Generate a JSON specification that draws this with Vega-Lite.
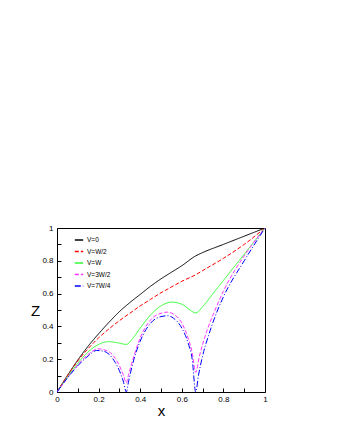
{
  "$schema": "https://vega.github.io/schema/vega-lite/v6.json",
  "width": 208,
  "height": 164,
  "autosize": {"type": "none"},
  "padding": {"left": 57, "top": 228, "right": 75, "bottom": 48},
  "background": "white",
  "config": {
    "view": {"stroke": "black", "strokeWidth": 1},
    "font": "Liberation Sans",
    "axis": {"domain": false, "grid": false, "tickColor": "black", "labelColor": "black", "labelFontSize": 8, "titleFontWeight": "normal", "titleColor": "black", "titleFontSize": 15}
  },
  "data": {"values": [
    {"s": "V=0", "x": 0, "z": 0}, {"s": "V=0", "x": 0.05, "z": 0.1}, {"s": "V=0", "x": 0.1, "z": 0.195}, {"s": "V=0", "x": 0.15, "z": 0.28}, {"s": "V=0", "x": 0.2, "z": 0.355}, {"s": "V=0", "x": 0.25, "z": 0.425}, {"s": "V=0", "x": 0.3, "z": 0.49}, {"s": "V=0", "x": 0.35, "z": 0.545}, {"s": "V=0", "x": 0.4, "z": 0.595}, {"s": "V=0", "x": 0.45, "z": 0.645}, {"s": "V=0", "x": 0.5, "z": 0.69}, {"s": "V=0", "x": 0.55, "z": 0.73}, {"s": "V=0", "x": 0.6, "z": 0.77}, {"s": "V=0", "x": 0.667, "z": 0.83}, {"s": "V=0", "x": 0.7, "z": 0.85}, {"s": "V=0", "x": 0.8, "z": 0.9}, {"s": "V=0", "x": 0.9, "z": 0.95}, {"s": "V=0", "x": 1, "z": 1},
    {"s": "V=W/2", "x": 0, "z": 0}, {"s": "V=W/2", "x": 0.05, "z": 0.1}, {"s": "V=W/2", "x": 0.1, "z": 0.19}, {"s": "V=W/2", "x": 0.15, "z": 0.265}, {"s": "V=W/2", "x": 0.2, "z": 0.33}, {"s": "V=W/2", "x": 0.25, "z": 0.385}, {"s": "V=W/2", "x": 0.3, "z": 0.435}, {"s": "V=W/2", "x": 0.35, "z": 0.48}, {"s": "V=W/2", "x": 0.4, "z": 0.525}, {"s": "V=W/2", "x": 0.45, "z": 0.565}, {"s": "V=W/2", "x": 0.5, "z": 0.605}, {"s": "V=W/2", "x": 0.55, "z": 0.64}, {"s": "V=W/2", "x": 0.6, "z": 0.675}, {"s": "V=W/2", "x": 0.667, "z": 0.715}, {"s": "V=W/2", "x": 0.7, "z": 0.74}, {"s": "V=W/2", "x": 0.8, "z": 0.815}, {"s": "V=W/2", "x": 0.9, "z": 0.9}, {"s": "V=W/2", "x": 1, "z": 1},
    {"s": "V=W", "x": 0, "z": 0}, {"s": "V=W", "x": 0.05, "z": 0.09}, {"s": "V=W", "x": 0.1, "z": 0.175}, {"s": "V=W", "x": 0.15, "z": 0.245}, {"s": "V=W", "x": 0.2, "z": 0.29}, {"s": "V=W", "x": 0.25, "z": 0.307}, {"s": "V=W", "x": 0.3, "z": 0.298}, {"s": "V=W", "x": 0.333, "z": 0.29}, {"s": "V=W", "x": 0.36, "z": 0.32}, {"s": "V=W", "x": 0.4, "z": 0.39}, {"s": "V=W", "x": 0.45, "z": 0.47}, {"s": "V=W", "x": 0.5, "z": 0.525}, {"s": "V=W", "x": 0.55, "z": 0.548}, {"s": "V=W", "x": 0.6, "z": 0.535}, {"s": "V=W", "x": 0.64, "z": 0.5}, {"s": "V=W", "x": 0.667, "z": 0.482}, {"s": "V=W", "x": 0.7, "z": 0.52}, {"s": "V=W", "x": 0.75, "z": 0.6}, {"s": "V=W", "x": 0.8, "z": 0.68}, {"s": "V=W", "x": 0.9, "z": 0.84}, {"s": "V=W", "x": 1, "z": 1},
    {"s": "V=3W/2", "x": 0, "z": 0}, {"s": "V=3W/2", "x": 0.05, "z": 0.085}, {"s": "V=3W/2", "x": 0.1, "z": 0.165}, {"s": "V=3W/2", "x": 0.15, "z": 0.23}, {"s": "V=3W/2", "x": 0.2, "z": 0.263}, {"s": "V=3W/2", "x": 0.25, "z": 0.245}, {"s": "V=3W/2", "x": 0.28, "z": 0.205}, {"s": "V=3W/2", "x": 0.3, "z": 0.16}, {"s": "V=3W/2", "x": 0.32, "z": 0.1}, {"s": "V=3W/2", "x": 0.333, "z": 0.055}, {"s": "V=3W/2", "x": 0.345, "z": 0.11}, {"s": "V=3W/2", "x": 0.37, "z": 0.22}, {"s": "V=3W/2", "x": 0.4, "z": 0.33}, {"s": "V=3W/2", "x": 0.45, "z": 0.44}, {"s": "V=3W/2", "x": 0.5, "z": 0.48}, {"s": "V=3W/2", "x": 0.53, "z": 0.487}, {"s": "V=3W/2", "x": 0.56, "z": 0.475}, {"s": "V=3W/2", "x": 0.6, "z": 0.42}, {"s": "V=3W/2", "x": 0.63, "z": 0.33}, {"s": "V=3W/2", "x": 0.65, "z": 0.24}, {"s": "V=3W/2", "x": 0.667, "z": 0.12}, {"s": "V=3W/2", "x": 0.685, "z": 0.22}, {"s": "V=3W/2", "x": 0.72, "z": 0.37}, {"s": "V=3W/2", "x": 0.76, "z": 0.5}, {"s": "V=3W/2", "x": 0.8, "z": 0.615}, {"s": "V=3W/2", "x": 0.9, "z": 0.83}, {"s": "V=3W/2", "x": 1, "z": 1},
    {"s": "V=7W/4", "x": 0, "z": 0}, {"s": "V=7W/4", "x": 0.05, "z": 0.085}, {"s": "V=7W/4", "x": 0.1, "z": 0.16}, {"s": "V=7W/4", "x": 0.15, "z": 0.22}, {"s": "V=7W/4", "x": 0.19, "z": 0.253}, {"s": "V=7W/4", "x": 0.22, "z": 0.25}, {"s": "V=7W/4", "x": 0.25, "z": 0.23}, {"s": "V=7W/4", "x": 0.28, "z": 0.18}, {"s": "V=7W/4", "x": 0.3, "z": 0.13}, {"s": "V=7W/4", "x": 0.32, "z": 0.06}, {"s": "V=7W/4", "x": 0.333, "z": 0}, {"s": "V=7W/4", "x": 0.345, "z": 0.07}, {"s": "V=7W/4", "x": 0.37, "z": 0.2}, {"s": "V=7W/4", "x": 0.4, "z": 0.31}, {"s": "V=7W/4", "x": 0.45, "z": 0.42}, {"s": "V=7W/4", "x": 0.5, "z": 0.46}, {"s": "V=7W/4", "x": 0.533, "z": 0.465}, {"s": "V=7W/4", "x": 0.56, "z": 0.45}, {"s": "V=7W/4", "x": 0.6, "z": 0.39}, {"s": "V=7W/4", "x": 0.63, "z": 0.3}, {"s": "V=7W/4", "x": 0.65, "z": 0.2}, {"s": "V=7W/4", "x": 0.667, "z": 0}, {"s": "V=7W/4", "x": 0.68, "z": 0.1}, {"s": "V=7W/4", "x": 0.7, "z": 0.22}, {"s": "V=7W/4", "x": 0.73, "z": 0.35}, {"s": "V=7W/4", "x": 0.76, "z": 0.46}, {"s": "V=7W/4", "x": 0.8, "z": 0.58}, {"s": "V=7W/4", "x": 0.9, "z": 0.8}, {"s": "V=7W/4", "x": 1, "z": 1}
  ]},
  "mark": {"type": "line", "strokeWidth": 1, "clip": true, "interpolate": "monotone"},
  "encoding": {
    "x": {"field": "x", "type": "quantitative", "scale": {"domain": [0, 1], "nice": false},
      "axis": {"orient": "bottom", "title": "x", "values": [0, 0.1, 0.2, 0.3, 0.4, 0.5, 0.6, 0.7, 0.8, 0.9, 1], "format": "~g", "labelExpr": "round(datum.value*10)%2==0 ? datum.label : ''", "tickSize": -4, "labelPadding": 7, "titlePadding": 0, "labelFlush": false}},
    "y": {"field": "z", "type": "quantitative", "scale": {"domain": [0, 1], "nice": false},
      "axis": {"orient": "left", "title": "Z", "titleAngle": 0, "titleX": -22, "titleY": 82, "titleBaseline": "middle", "titleAlign": "center", "values": [0, 0.1, 0.2, 0.3, 0.4, 0.5, 0.6, 0.7, 0.8, 0.9, 1], "format": "~g", "labelExpr": "round(datum.value*10)%2==0 ? datum.label : ''", "tickSize": -4, "labelPadding": 8, "labelFlush": false}},
    "color": {"field": "s", "type": "nominal",
      "scale": {"domain": ["V=0", "V=W/2", "V=W", "V=3W/2", "V=7W/4"], "range": ["#000000", "#ff0000", "#33ff33", "#ff33ff", "#0000ff"]},
      "legend": {"orient": "none", "legendX": 17, "legendY": 7, "title": null, "symbolType": "stroke", "symbolSize": 70, "symbolStrokeWidth": 1.5, "labelFontSize": 6.5, "labelColor": "black", "rowPadding": 2.5, "padding": 0, "labelOffset": 3}},
    "strokeDash": {"field": "s", "type": "nominal",
      "scale": {"domain": ["V=0", "V=W/2", "V=W", "V=3W/2", "V=7W/4"], "range": [[1, 0], [4, 2], [1, 0], [4, 2], [6, 2, 1, 2]]},
      "legend": {"orient": "none", "legendX": 17, "legendY": 7, "title": null, "symbolType": "stroke", "symbolSize": 70, "symbolStrokeWidth": 1.5, "labelFontSize": 6.5, "labelColor": "black", "rowPadding": 2.5, "padding": 0, "labelOffset": 3}}
  }
}
